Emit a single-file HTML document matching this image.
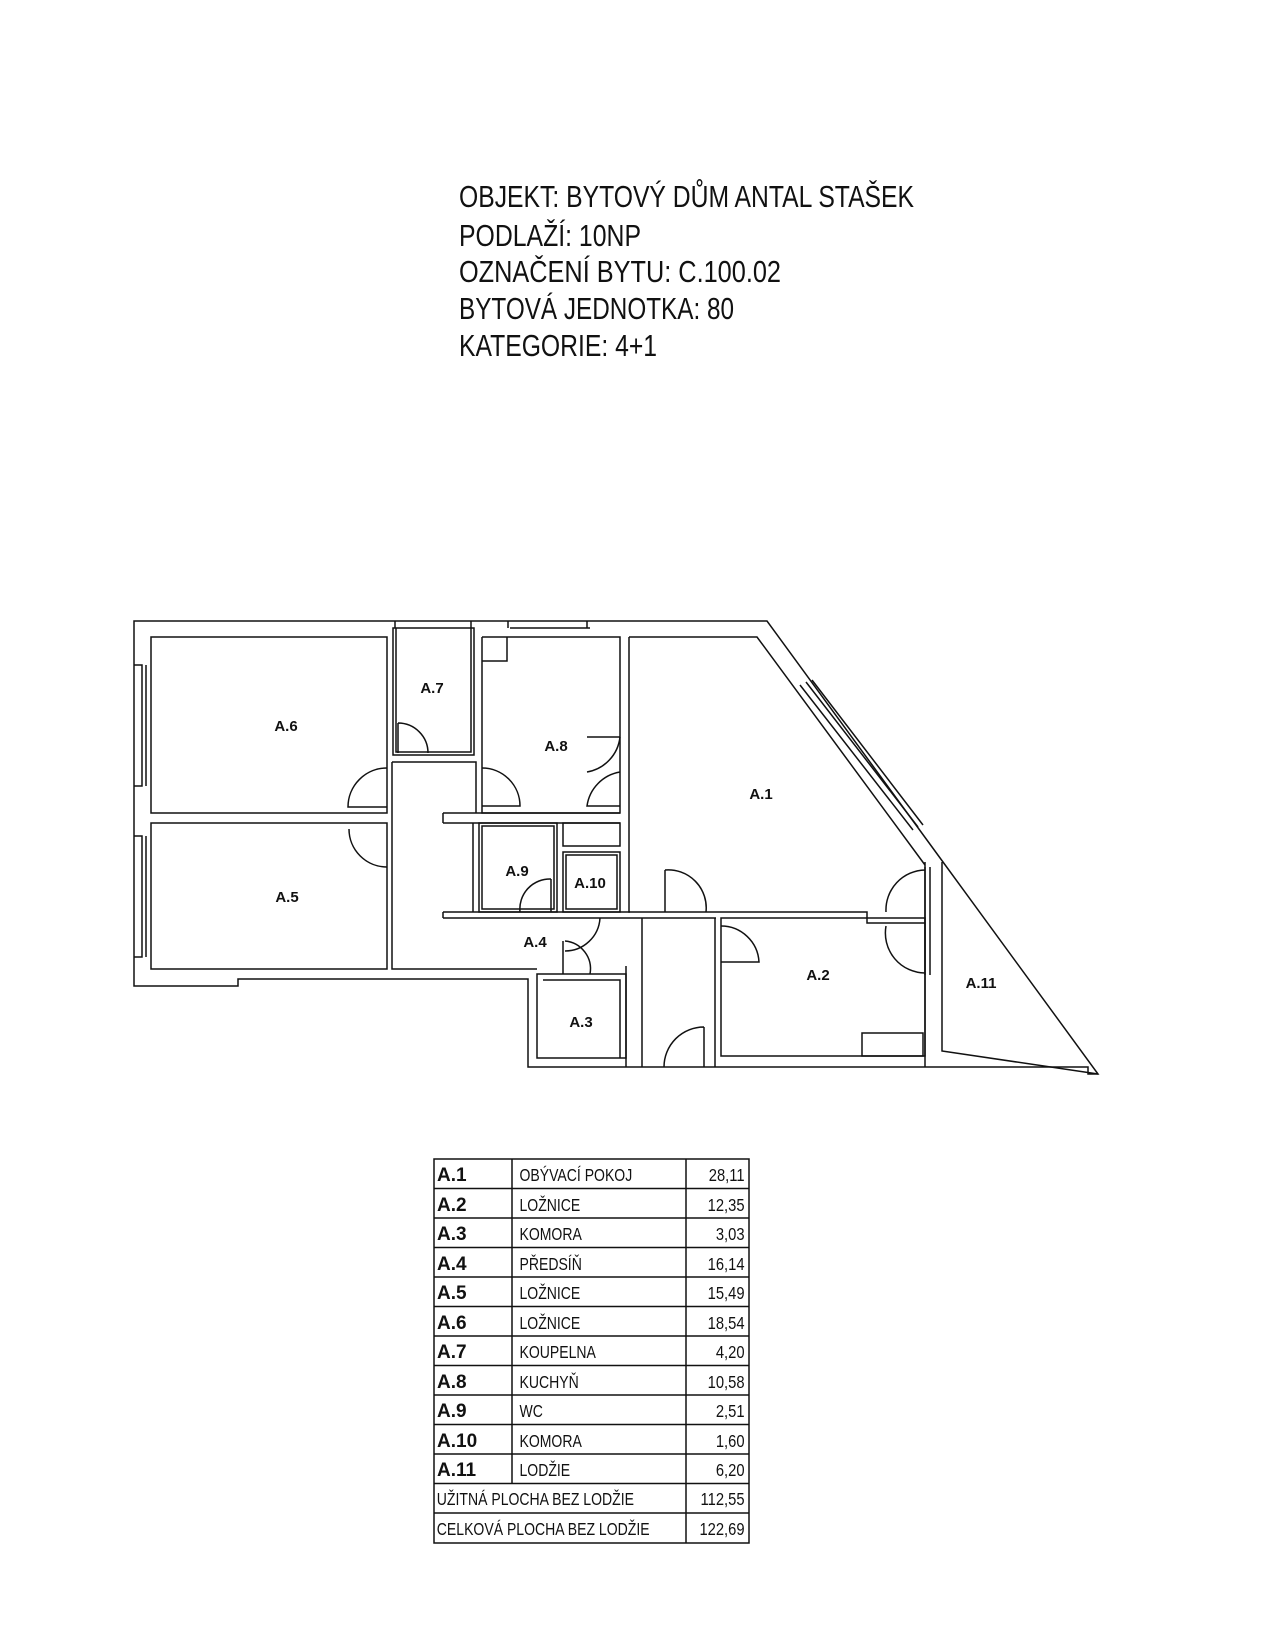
<!DOCTYPE html>
<html><head><meta charset="utf-8"><style>body{margin:0;background:#fff}svg{display:block}</style></head>
<body>
<svg width="1275" height="1650" viewBox="0 0 1275 1650" xmlns="http://www.w3.org/2000/svg">
<g font-family="Liberation Sans, DejaVu Sans, sans-serif" font-size="31" fill="#111">
<text x="459" y="207" textLength="455" lengthAdjust="spacingAndGlyphs">OBJEKT: BYTOVÝ DŮM ANTAL STAŠEK</text>
<text x="459" y="246" textLength="182" lengthAdjust="spacingAndGlyphs">PODLAŽÍ: 10NP</text>
<text x="459" y="282" textLength="322" lengthAdjust="spacingAndGlyphs">OZNAČENÍ BYTU: C.100.02</text>
<text x="459" y="319" textLength="275" lengthAdjust="spacingAndGlyphs">BYTOVÁ JEDNOTKA: 80</text>
<text x="459" y="356" textLength="198" lengthAdjust="spacingAndGlyphs">KATEGORIE: 4+1</text>
</g>
<g fill="none" stroke="#111" stroke-width="1.5">
<path d="M134 621 H767 L943 862 L1098 1074 L1088 1074 L1088 1067 H528 V979 H238 V986 H134 Z"/>
<path d="M134 665 H142 V786 H134 M142 665 V786 M146 665 V786"/>
<path d="M134 836 H142 V957 H134 M142 836 V957 M146 836 V957"/>
<rect x="151" y="637" width="236" height="176"/>
<rect x="151" y="823" width="236" height="146"/>
<rect x="393" y="628" width="81" height="127"/>
<path d="M396 628 V752 H471 V628"/>
<path d="M392 762 H476 V813 M392 762 V969 H537"/>
<path d="M482 637 V813 H620 V637 H482 M482 637 V661 H507 V637"/>
<path d="M443 813 H620 M443 823 H620 M443 813 V823"/>
<path d="M473 823 V912 M443 912 H630 M443 918 H630 M443 912 V918"/>
<rect x="479" y="823" width="78" height="89"/>
<rect x="482" y="826" width="72" height="83"/>
<rect x="563" y="823" width="57" height="23"/>
<rect x="563" y="852" width="57" height="60"/>
<rect x="566" y="855" width="51" height="54"/>
<path d="M629 637 H757 L925 865 M629 637 V912 H867 V923 H925"/>
<path d="M630 918 H716"/>
<rect x="721" y="918" width="204" height="138"/>
<path d="M715 918 V1067 M925 862 V1067 M942 862 V1051 L1098 1074"/>
<rect x="537" y="974" width="89" height="84"/>
<path d="M543 980 H620 V1058"/>
<path d="M626 966 V1067 M642 918 V1067"/>
<rect x="862" y="1033" width="61" height="23"/>
<path d="M395 621 V628 M471 621 V628 M508 621 V628 M587 621 V628 M510 628 H590"/>
<path d="M800 685 L913 830 M806 682 L918 827 M812 680 L923 825"/>
<path d="M398 723 A30 30 0 0 1 428 753 M398 723 V753"/>
<path d="M387 768 A39 39 0 0 0 348 807 H387"/>
<path d="M349 829 A38 38 0 0 0 387 867"/>
<path d="M482 768 A38 38 0 0 1 520 806 H482"/>
<path d="M620 737 A40 40 0 0 1 587 772 M620 772 A40 40 0 0 0 587 806 H620 M587 737 H620"/>
<path d="M551 879 A30 30 0 0 0 520 912 M551 879 V912"/>
<path d="M600 918 A35 35 0 0 1 565 951 M565 941 A28 28 0 0 1 590 974 M563 941 V974"/>
<path d="M665 870 A38 38 0 0 1 706 912 M665 870 V912"/>
<path d="M721 926 A38 38 0 0 1 759 962 H721"/>
<path d="M704 1027 A40 40 0 0 0 664 1067 M704 1027 V1067"/>
<path d="M925 870 A40 40 0 0 0 886 912 M886 926 A40 40 0 0 0 925 973 M925 867 V975 M930 867 V975"/>
<rect x="434" y="1159" width="315" height="384"/>
<path d="M512 1159 V1483.5 M686 1159 V1543"/>
<path d="M434 1188.5 H749 M434 1218 H749 M434 1247.5 H749 M434 1277 H749 M434 1306.5 H749 M434 1336 H749 M434 1365.5 H749 M434 1395 H749 M434 1424.5 H749 M434 1454 H749 M434 1483.5 H749 M434 1513 H749"/>
</g>
<g font-family="Liberation Sans, sans-serif" font-weight="bold" font-size="15" fill="#111" text-anchor="middle">
<text x="286" y="731">A.6</text><text x="287" y="902">A.5</text><text x="432" y="693">A.7</text>
<text x="556" y="751">A.8</text><text x="517" y="876">A.9</text><text x="590" y="888">A.10</text>
<text x="535" y="947">A.4</text><text x="581" y="1027">A.3</text><text x="761" y="799">A.1</text>
<text x="818" y="980">A.2</text><text x="981" y="988">A.11</text>
</g>
<g font-family="Liberation Sans, sans-serif" font-size="18" fill="#111">
<g font-weight="bold" font-size="19">
<text x="437" y="1181">A.1</text><text x="437" y="1211">A.2</text><text x="437" y="1240">A.3</text><text x="437" y="1270">A.4</text><text x="437" y="1299">A.5</text><text x="437" y="1329">A.6</text><text x="437" y="1358">A.7</text><text x="437" y="1388">A.8</text><text x="437" y="1417">A.9</text><text x="437" y="1447">A.10</text><text x="437" y="1476">A.11</text>
</g>
<g transform="scale(0.78,1)">
<text x="666" y="1181">OBÝVACÍ  POKOJ</text><text x="666" y="1211">LOŽNICE</text><text x="666" y="1240">KOMORA</text><text x="666" y="1270">PŘEDSÍŇ</text><text x="666" y="1299">LOŽNICE</text><text x="666" y="1329">LOŽNICE</text><text x="666" y="1358">KOUPELNA</text><text x="666" y="1388">KUCHYŇ</text><text x="666" y="1417">WC</text><text x="666" y="1447">KOMORA</text><text x="666" y="1476">LODŽIE</text>
<text x="560" y="1505">UŽITNÁ  PLOCHA  BEZ  LODŽIE</text><text x="560" y="1535">CELKOVÁ  PLOCHA  BEZ  LODŽIE</text>
</g>
<g text-anchor="end" transform="scale(0.82,1)">
<text x="908" y="1181">28,11</text><text x="908" y="1211">12,35</text><text x="908" y="1240">3,03</text><text x="908" y="1270">16,14</text><text x="908" y="1299">15,49</text><text x="908" y="1329">18,54</text><text x="908" y="1358">4,20</text><text x="908" y="1388">10,58</text><text x="908" y="1417">2,51</text><text x="908" y="1447">1,60</text><text x="908" y="1476">6,20</text><text x="908" y="1505">112,55</text><text x="908" y="1535">122,69</text>
</g>
</g>
</svg>
</body></html>
